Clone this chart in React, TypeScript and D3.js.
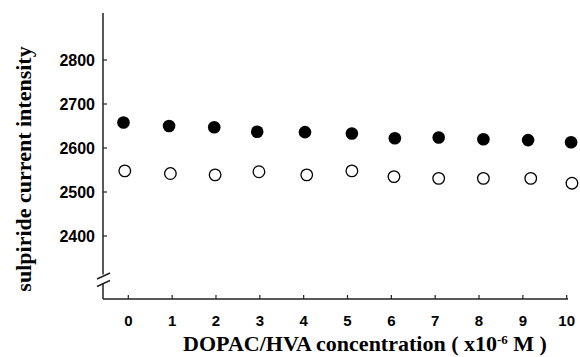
import React from "react";
import * as d3 from "d3";

const concentrationTicks = [0, 1, 2, 3, 4, 5, 6, 7, 8, 9, 10];
const intensityTicks = [2400, 2500, 2600, 2700, 2800];

// filled circles
const filledX = [-0.11, 0.93, 1.96, 2.94, 4.03, 5.1, 6.08, 7.08, 8.1, 9.12, 10.1];
const filledY = [2658, 2650, 2647, 2637, 2636, 2633, 2622, 2624, 2620, 2618, 2613];
// open circles
const openX = [-0.08, 0.96, 1.98, 2.98, 4.07, 5.1, 6.06, 7.08, 8.1, 9.18, 10.12];
const openY = [2548, 2542, 2539, 2546, 2539, 2548, 2535, 2531, 2531, 2531, 2520];

const W = 580;
const H = 357;
const axisX = 103;
const axisBottom = 299;
const axisTop = 13;
const axisRight = 568;

export default function App() {
  const x = d3.scaleLinear().domain([0, 10]).range([128.3, 566.7]);
  const y = d3.scaleLinear().domain([2400, 2800]).range([236, 60]);
  const sans = "'Liberation Sans', Arial, sans-serif";
  const serif = "'Liberation Serif', 'Times New Roman', serif";
  const axisColor = "#222";

  return (
    <svg
      width={W}
      height={H}
      viewBox={`0 0 ${W} ${H}`}
      style={{ position: "absolute", left: 0, top: 0, background: "#fff" }}
    >
      <rect width={W} height={H} fill="#fff" />
      {/* y axis with break */}
      <line x1={axisX} x2={axisX} y1={axisTop} y2={274.5} stroke={axisColor} strokeWidth={1.5} />
      <line x1={axisX} x2={axisX} y1={283} y2={axisBottom} stroke={axisColor} strokeWidth={1.5} />
      <line x1={97} y1={279} x2={110} y2={273} stroke={axisColor} strokeWidth={1.5} />
      <line x1={97} y1={286.5} x2={110} y2={280.5} stroke={axisColor} strokeWidth={1.5} />
      {/* x axis */}
      <line x1={axisX} x2={axisRight} y1={axisBottom} y2={axisBottom} stroke={axisColor} strokeWidth={1.5} />
      {concentrationTicks.map((t) => (
        <g key={"xt" + t}>
          <line x1={x(t)} x2={x(t)} y1={axisBottom} y2={axisBottom - 4} stroke={axisColor} strokeWidth={1.2} />
          <text
            x={x(t)}
            y={325.5}
            textAnchor="middle"
            fontFamily={sans}
            fontWeight="bold"
            fontSize={15}
            fill="#000"
          >
            {t}
          </text>
        </g>
      ))}
      {intensityTicks.map((t) => (
        <g key={"yt" + t}>
          <line x1={axisX} x2={axisX + 4} y1={y(t)} y2={y(t)} stroke={axisColor} strokeWidth={1.2} />
          <text
            x={95}
            y={y(t)}
            dy="0.36em"
            textAnchor="end"
            fontFamily={sans}
            fontWeight="bold"
            fontSize={16}
            fill="#000"
          >
            {t}
          </text>
        </g>
      ))}
      {filledX.map((v, i) => (
        <circle key={"f" + i} cx={x(v)} cy={y(filledY[i])} r={6.3} fill="#000" />
      ))}
      {openX.map((v, i) => (
        <circle
          key={"o" + i}
          cx={x(v)}
          cy={y(openY[i])}
          r={5.8}
          fill="#fff"
          stroke="#000"
          strokeWidth={1.3}
        />
      ))}
      <text
        x={365}
        y={351}
        textAnchor="middle"
        fontFamily={serif}
        fontWeight="bold"
        fontSize={22}
        fill="#000"
      >
        DOPAC/HVA concentration ( x10
        <tspan fontSize={13} dy={-7}>-6</tspan>
        <tspan dy={7}> M )</tspan>
      </text>
      <text
        transform={`translate(31, 169) rotate(-90)`}
        textAnchor="middle"
        fontFamily={serif}
        fontWeight="bold"
        fontSize={22}
        fill="#000"
      >
        sulpiride current intensity
      </text>
    </svg>
  );
}
